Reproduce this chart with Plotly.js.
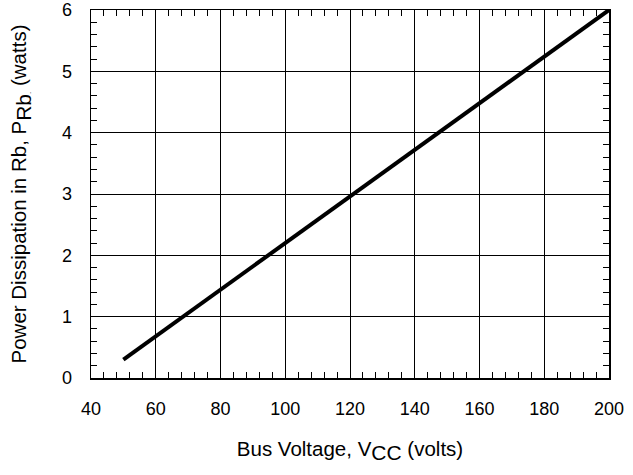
<!DOCTYPE html>
<html><head><meta charset="utf-8">
<script src="https://cdn.plot.ly/plotly-3.0.1.min.js"></script>
<style>body{margin:0;background:#fff}#c{width:633px;height:475px}</style>
</head><body><div id="c"></div>
<script>
const busVoltage = [50, 100, 150, 200];
const powerRb = [0.3, 2.2, 4.1, 6.0];
const xTicks = [40, 60, 80, 100, 120, 140, 160, 180, 200];
const yTicks = [0, 1, 2, 3, 4, 5, 6];

const font = {family: 'Liberation Sans, Arial, sans-serif', color: '#000'};
Plotly.newPlot('c', [{
  x: busVoltage, y: powerRb, mode: 'lines', type: 'scatter',
  line: {color: '#000', width: 4}, hoverinfo: 'skip'
}], {
  width: 633, height: 475,
  margin: {l: 91, r: 24, t: 10, b: 97},
  paper_bgcolor: '#fff', plot_bgcolor: '#fff',
  showlegend: false,
  font: font,
  xaxis: {
    range: [40, 200], tickvals: xTicks, ticktext: xTicks.map(String),
    showgrid: true, gridcolor: '#000', gridwidth: 1,
    showline: true, linecolor: '#000', linewidth: 1.5, mirror: 'allticks',
    ticks: 'inside', ticklen: 0, tickcolor: '#000',
    ticklabelstandoff: 14,
    minor: {dtick: 4, tick0: 40, ticks: 'inside', ticklen: 6, tickcolor: '#000', showgrid: false},
    tickfont: {size: 18, family: font.family, color: '#000'},
    zeroline: false,
    title: {text: 'Bus Voltage, V<sub><span style="font-size:21px">CC</span></sub> (volts)', font: {size: 20.5, family: font.family, color: '#000'}, standoff: 23}
  },
  yaxis: {
    range: [0, 6], tickvals: yTicks, ticktext: yTicks.map(String),
    showgrid: true, gridcolor: '#000', gridwidth: 1,
    showline: true, linecolor: '#000', linewidth: 1.5, mirror: 'allticks',
    ticks: 'inside', ticklen: 0, tickcolor: '#000',
    ticklabelstandoff: 14,
    minor: {dtick: 0.2, tick0: 0, ticks: 'inside', ticklen: 6, tickcolor: '#000', showgrid: false},
    tickfont: {size: 18, family: font.family, color: '#000'},
    zeroline: false,
    title: {text: 'Power Dissipation in Rb, P<sub><span style="font-size:21px">Rb</span><span style="font-size:8px">.</span></sub> (watts)', font: {size: 20.5, family: font.family, color: '#000'}, standoff: 29}
  }
}, {staticPlot: true});
</script></body></html>
